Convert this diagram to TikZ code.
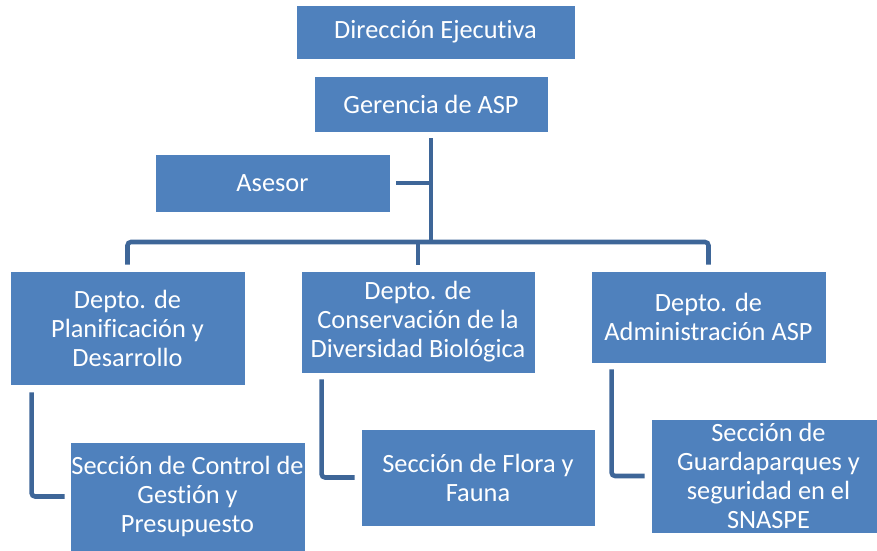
\documentclass[tikz,border=0pt]{standalone}
\usepackage{fontspec}
\setmainfont[Ligatures={NoCommon,NoContextual}]{Carlito}
\usetikzlibrary{calc}
\definecolor{boxblue}{HTML}{4F81BD}
\definecolor{lineblue}{HTML}{3E6698}
\tikzset{
	box/.style={draw=white,line width=.5pt,fill=boxblue,text=white,align=center,inner sep=0pt,font=\fontsize{15pt}{16.5pt}\selectfont},
	link/.style={draw=lineblue,line width=2.6pt,rounded corners=2pt}
}
\begin{document}
\begin{tikzpicture}[x=0.02cm,y=-0.02cm]
		\useasboundingbox (0,0) rectangle (877,551);
		\clip (0,0) rectangle (877,551);
		
		\node[box,minimum width=5.58cm,minimum height=1.08cm] (dir) at (435.5,32) {Dirección Ejecutiva};
		\node[box,minimum width=4.68cm,minimum height=1.12cm] (ger) at (431,104) {Gerencia de ASP};
		\node[box,minimum width=4.7cm,minimum height=1.16cm] (ase) at (272.5,183) {Asesor};
		
		\node[box,minimum width=4.7cm,minimum height=2.28cm] (plan) at (127.5,328) {Depto. de\\Planificación y\\Desarrollo};
		\node[box,minimum width=4.68cm,minimum height=2.04cm] (cons) at (418,322) {Depto. de\\Conservación de la\\Diversidad Biológica};
		\node[box,minimum width=4.7cm,minimum height=1.84cm] (adm) at (708.5,317) {Depto. de\\Administración ASP};
		
		\node[box,minimum width=4.7cm,minimum height=2.18cm] (ctrl) at (187.5,496.5) {Sección de Control de\\Gestión y\\Presupuesto};
		\node[box,minimum width=4.68cm,minimum height=1.94cm] (flora) at (478,477.5) {Sección de Flora y\\Fauna};
		\node[box,minimum width=4.7cm,minimum height=2.28cm] (guard) at (768.5,476) {Sección de\\Guardaparques y\\seguridad en el\\SNASPE};
		
		\coordinate (bus) at (431,242);
		\draw[link] ($(ger.south)+(0,6)$) -- (bus);
		\draw[link] ($(ase.east)+(6,0)$) -- (ase.east -| bus);
		\draw[link] ($(plan.north)+(0,-6)$) |- (bus) -| ($(adm.north)+(0,-6)$);
		\draw[link] ($(cons.north)+(0,-6)$) -- (cons.north |- bus);
		
		\draw[link] ($(plan.south west)+(22,7)$) |- ($(ctrl.west)+(-5,0)$);
		\draw[link] ($(cons.south west)+(21,6)$) |- ($(flora.west)+(-6,0)$);
		\draw[link] ($(adm.south west)+(21,6)$) |- ($(guard.west)+(-6,0)$);
\end{tikzpicture}
\end{document}
